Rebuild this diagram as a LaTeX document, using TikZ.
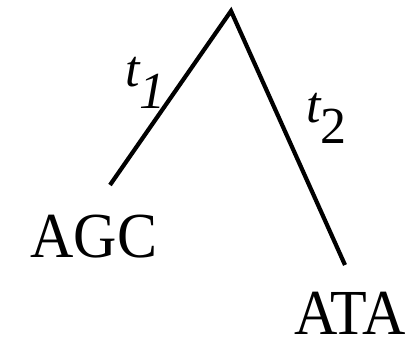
\documentclass[tikz,border=0pt]{standalone}
\usepackage{fontspec}
\setmainfont{Liberation Serif}
\begin{document}
\begin{tikzpicture}[x=1pt,y=-1pt,
  branch/.style={line width=4.2pt},
  leaf/.style={anchor=base,inner sep=0pt,font=\fontsize{60}{60}\selectfont},
  blen/.style={anchor=base west,inner sep=0pt,font=\fontsize{52}{52}\selectfont\itshape}]
\useasboundingbox (0,0) rectangle (417,342);
\coordinate (root) at (231,11);
\coordinate (l) at (110,185);
\coordinate (r) at (345,265);
\draw[branch] (l) -- (root) -- (r);
\node[leaf] (agc) at (94,257) {\scalebox{1}[1.07]{AGC}};
\node[leaf] (ata) at (350,334) {\scalebox{1}[1.07]{ATA}};
\node[blen] (t1) at (125,87) {t\raisebox{-21pt}{1}};
\node[blen] (t2) at (306,122) {t\raisebox{-21pt}{\upshape 2}};
\end{tikzpicture}
\end{document}
